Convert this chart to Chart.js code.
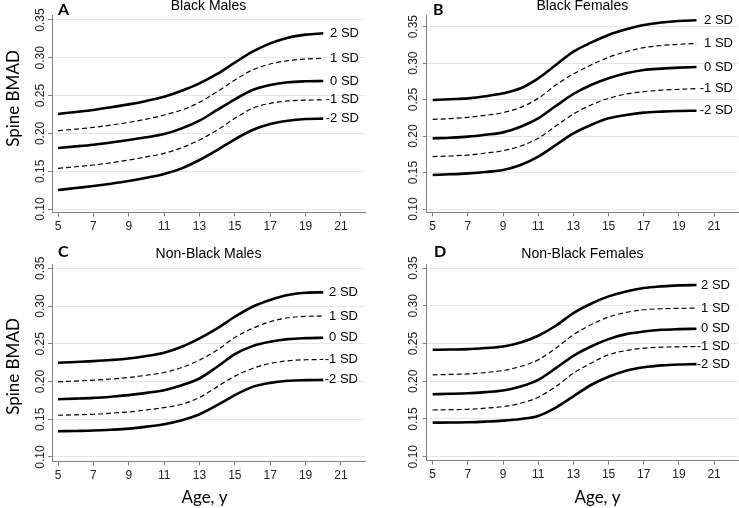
<!DOCTYPE html>
<html>
<head>
<meta charset="utf-8">
<script src="https://cdn.jsdelivr.net/npm/chart.js@4.4.0/dist/chart.umd.min.js"></script>
<style>
  body { margin: 0; background: #fff; }
  #wrap { position: relative; width: 739px; height: 508px; overflow: hidden; }
  canvas { position: absolute; }
</style>
</head>
<body>
<div id="wrap">
  <canvas id="cA" width="370" height="250" style="left:0;top:0"></canvas>
  <canvas id="cB" width="369" height="250" style="left:370px;top:0"></canvas>
  <!-- lower panels start higher so their letter and title can sit above the plot -->
  <canvas id="cC" width="370" height="272" style="left:0;top:236px"></canvas>
  <canvas id="cD" width="369" height="272" style="left:370px;top:236px"></canvas>
</div>
<script>
// ages 5..20, one point per year
var ages = [5, 6, 7, 8, 9, 10, 11, 12, 13, 14, 15, 16, 17, 18, 19, 20];
var ageTicks = [5, 7, 9, 11, 13, 15, 17, 19, 21];
var bmadTicks = [0.10, 0.15, 0.20, 0.25, 0.30, 0.35];
var sdLabels = ['2 SD', '1 SD', '0 SD', '-1 SD', '-2 SD'];

// rows = 2 SD, 1 SD, 0 SD, -1 SD, -2 SD
var blackMales = [
  [.2257, .2283, .2310, .2345, .2384, .2430, .2486, .2565, .2662, .2786, .2936, .3081, .3191, .3266, .3306, .3324],
  [.2036, .2057, .2080, .2110, .2146, .2190, .2243, .2310, .2411, .2552, .2706, .2839, .2918, .2962, .2984, .2993],
  [.1807, .1828, .1851, .1880, .1913, .1950, .1992, .2067, .2168, .2310, .2451, .2574, .2640, .2676, .2689, .2693],
  [.1538, .1559, .1582, .1612, .1648, .1690, .1736, .1811, .1913, .2045, .2199, .2332, .2398, .2429, .2440, .2443],
  [.1251, .1277, .1304, .1335, .1370, .1413, .1463, .1538, .1648, .1780, .1922, .2045, .2124, .2168, .2190, .2195]
];
var blackFemales = [
  [.2495, .2505, .2517, .2545, .2586, .2655, .2792, .2974, .3157, .3281, .3386, .3463, .3523, .3558, .3578, .3587],
  [.2229, .2240, .2257, .2285, .2321, .2394, .2517, .2700, .2851, .2974, .3080, .3157, .3212, .3242, .3258, .3271],
  [.1969, .1978, .1992, .2018, .2051, .2129, .2243, .2412, .2577, .2700, .2792, .2860, .2906, .2925, .2938, .2947],
  [.1718, .1727, .1740, .1766, .1800, .1864, .1969, .2138, .2303, .2426, .2517, .2577, .2609, .2630, .2641, .2650],
  [.1466, .1476, .1489, .1508, .1535, .1603, .1718, .1878, .2037, .2152, .2243, .2289, .2321, .2335, .2344, .2348]
];
var nonBlackMales = [
  [.2248, .2258, .2270, .2285, .2305, .2338, .2381, .2460, .2571, .2704, .2858, .2991, .3080, .3146, .3177, .3181],
  [.1996, .2006, .2018, .2033, .2053, .2083, .2119, .2186, .2283, .2416, .2584, .2704, .2792, .2845, .2863, .2867],
  [.1765, .1773, .1783, .1799, .1819, .1849, .1885, .1951, .2040, .2195, .2363, .2469, .2527, .2562, .2575, .2580],
  [.1553, .1559, .1566, .1580, .1597, .1623, .1655, .1699, .1788, .1929, .2071, .2173, .2239, .2274, .2288, .2292],
  [.1341, .1345, .1350, .1361, .1376, .1402, .1434, .1487, .1566, .1686, .1819, .1929, .1982, .2009, .2018, .2022]
];
var nonBlackFemales = [
  [.2416, .2420, .2425, .2440, .2460, .2513, .2602, .2735, .2903, .3027, .3124, .3190, .3235, .3257, .3270, .3274],
  [.2084, .2090, .2097, .2115, .2142, .2195, .2283, .2438, .2615, .2748, .2850, .2912, .2947, .2960, .2965, .2969],
  [.1827, .1833, .1841, .1856, .1876, .1929, .2018, .2173, .2336, .2460, .2558, .2624, .2659, .2681, .2690, .2695],
  [.1619, .1623, .1628, .1643, .1664, .1708, .1788, .1929, .2106, .2239, .2350, .2407, .2438, .2451, .2456, .2460],
  [.1451, .1453, .1456, .1465, .1478, .1500, .1540, .1650, .1800, .1950, .2060, .2140, .2185, .2210, .2222, .2226]
];

var axisGray = '#808080';
var tickFont = { family: '"Liberation Sans", Arial, sans-serif', size: 12 };

// draws panel letter, title, SD labels at line ends and axis titles
var panelText = {
  id: 'panelText',
  afterDraw: function(chart, args, o) {
    var ctx = chart.ctx;
    var area = chart.chartArea;
    ctx.save();
    ctx.fillStyle = '#000';
    ctx.textBaseline = 'alphabetic';

    ctx.font = 'bold 16px Lato';
    ctx.textAlign = 'left';
    ctx.fillText(o.letter, o.letterX, o.letterY);

    ctx.font = '14px "Liberation Sans"';
    ctx.textAlign = 'center';
    ctx.fillText(o.title, (area.left + area.right) / 2, o.titleY);

    ctx.font = '13px "Liberation Sans"';
    ctx.textAlign = 'right';
    ctx.textBaseline = 'middle';
    chart.data.datasets.forEach(function(ds, i) {
      var pts = chart.getDatasetMeta(i).data;
      var last = pts[pts.length - 1];
      ctx.fillText(ds.label, o.sdRight, last.y);
    });

    ctx.font = '17px Lato';
    ctx.textAlign = 'center';
    if (o.yTitle) {
      ctx.save();
      ctx.translate(o.yTitleX, o.yTitleY);
      ctx.rotate(-Math.PI / 2);
      ctx.fillText(o.yTitle, 0, 0);
      ctx.restore();
    }
    if (o.xTitle) {
      ctx.textBaseline = 'alphabetic';
      ctx.fillText(o.xTitle, o.xTitleX, o.xTitleY);
    }
    ctx.restore();
  }
};

function makePanel(id, series, p) {
  var datasets = series.map(function(vals, i) {
    var dashed = (i === 1 || i === 3);
    return {
      label: sdLabels[i],
      data: vals.map(function(v, j) { return { x: ages[j], y: v }; }),
      borderColor: '#000',
      borderWidth: dashed ? 1.2 : 2.6,
      borderDash: dashed ? [5, 3] : [],
      pointRadius: 0,
      cubicInterpolationMode: 'monotone',
      fill: false
    };
  });

  return new Chart(document.getElementById(id), {
    type: 'line',
    data: { datasets: datasets },
    plugins: [panelText],
    options: {
      responsive: false,
      animation: false,
      events: [],
      layout: { padding: { left: 0, top: p.top, right: p.padRight, bottom: 0 } },
      plugins: {
        legend: { display: false },
        tooltip: { enabled: false },
        panelText: p.text
      },
      scales: {
        x: {
          type: 'linear',
          min: 4.66,
          max: 22.36,
          afterBuildTicks: function(s) { s.ticks = ageTicks.map(function(v) { return { value: v }; }); },
          afterFit: function(s) { s.height = p.xAxisH; },
          grid: { drawOnChartArea: false, tickLength: 4, tickColor: axisGray },
          border: { color: axisGray, width: 1 },
          ticks: { font: tickFont, color: '#222', padding: 3, maxRotation: 0, autoSkip: false }
        },
        y: {
          type: 'linear',
          min: p.yMin,
          max: p.yMax,
          afterBuildTicks: function(s) { s.ticks = bmadTicks.map(function(v) { return { value: v }; }); },
          afterFit: function(s) { s.width = p.yAxisW; },
          grid: { color: '#e6e6e6', lineWidth: 1, tickLength: 4, tickColor: axisGray },
          border: { color: axisGray, width: 1 },
          ticks: {
            font: tickFont, color: '#222', autoSkip: false,
            minRotation: 90, maxRotation: 90, crossAlign: 'center', padding: p.yTickPad,
            callback: function(v) { return Number(v).toFixed(2); }
          }
        }
      }
    }
  });
}

makePanel('cA', blackMales, {
  top: 15, padRight: 5, xAxisH: 37.5, yAxisW: 52, yMin: 0.0954, yMax: 0.3566, yTickPad: -4.7,
  text: { letter: 'A', letterX: 58, letterY: 15, title: 'Black Males', titleY: 9.5, sdRight: 359,
          yTitle: 'Spine BMAD', yTitleX: 14, yTitleY: 98.5 }
});
makePanel('cB', blackFemales, {
  top: 15, padRight: 1, xAxisH: 37.7, yAxisW: 56.7, yMin: 0.0955, yMax: 0.366, yTickPad: -2.3,
  text: { letter: 'B', letterX: 63, letterY: 15, title: 'Black Females', titleY: 9.5, sdRight: 363 }
});
makePanel('cC', nonBlackMales, {
  top: 28, padRight: 5, xAxisH: 46.5, yAxisW: 52, yMin: 0.094, yMax: 0.3557, yTickPad: -4.7,
  text: { letter: 'C', letterX: 58, letterY: 21, title: 'Non-Black Males', titleY: 21.5, sdRight: 358,
          yTitle: 'Spine BMAD', yTitleX: 14, yTitleY: 130.5, xTitle: 'Age, y', xTitleX: 204.5, xTitleY: 267 }
});
makePanel('cD', nonBlackFemales, {
  top: 28, padRight: 1, xAxisH: 47.3, yAxisW: 56.7, yMin: 0.0947, yMax: 0.3553, yTickPad: -2.3,
  text: { letter: 'D', letterX: 64, letterY: 21, title: 'Non-Black Females', titleY: 21.5, sdRight: 360,
          xTitle: 'Age, y', xTitleX: 227.5, xTitleY: 267 }
});
</script>
</body>
</html>
